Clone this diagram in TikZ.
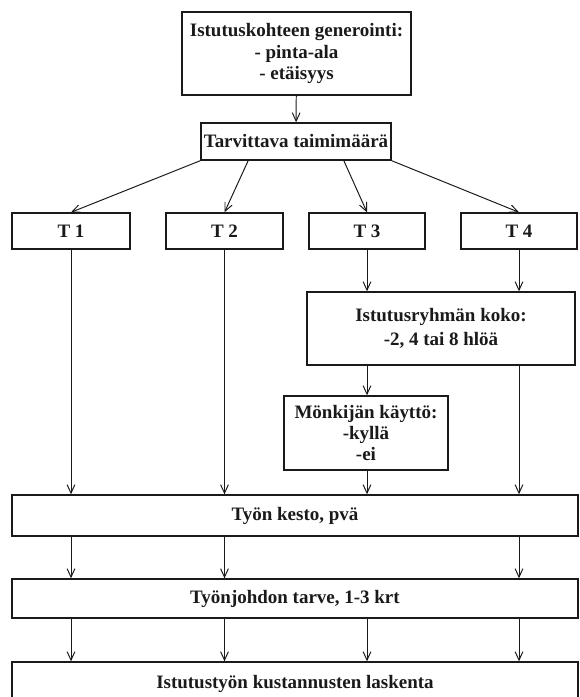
\documentclass[tikz,border=0pt]{standalone}
\usepackage{fontspec}
\setmainfont{Liberation Serif}
\usepackage{tikz}
\usetikzlibrary{arrows.meta,positioning,calc}
\definecolor{flInk}{HTML}{1A1A1A}
\newlength{\pxu}
\setlength{\pxu}{0.025cm}
\tikzset{
  % Plain process box
  pbox/.style={rectangle,draw=flInk,line width=1pt,fill=white,
    align=center,inner sep=0pt,text=flInk,
    font=\fontsize{13.5}{15}\selectfont\bfseries},
  % Wide full-width box
  wbox/.style={pbox,minimum width=566\pxu},
  % Arrows
  arr/.style={-{Straight Barb[length=6pt,width=5.5pt]},line width=0.7pt,color=flInk},
}
\begin{document}
\begin{tikzpicture}[x=\pxu,y=-\pxu]
  \useasboundingbox (0,0) rectangle (579,697);

  \node[pbox,minimum width=229\pxu,minimum height=83\pxu] (gen) at (296.5,53.5)
    {Istutuskohteen generointi:\\- pinta-ala\\- etäisyys};
  \node[pbox,minimum width=190\pxu,minimum height=37\pxu] (tarve) at (296,141.5)
    {Tarvittava taimimäärä};

  \node[pbox,minimum width=118\pxu,minimum height=36\pxu] (t1) at (71,231) {T 1};
  \node[pbox,minimum width=117\pxu,minimum height=36\pxu] (t2) at (224.5,231) {T 2};
  \node[pbox,minimum width=116\pxu,minimum height=36\pxu] (t3) at (367,231) {T 3};
  \node[pbox,minimum width=116\pxu,minimum height=36\pxu] (t4) at (519,231) {T 4};

  \node[pbox,minimum width=268\pxu,minimum height=73\pxu] (ryhma) at (441,328.5)
    {Istutusryhmän koko:\\[2pt]-2, 4 tai 8 hlöä};
  \node[pbox,minimum width=164\pxu,minimum height=74\pxu] (monk) at (366,433)
    {Mönkijän käyttö:\\-kyllä\\-ei};

  \node[wbox,minimum height=41\pxu] (kesto) at (295,515.5) {Työn kesto, pvä};
  \node[wbox,minimum height=39\pxu] (johto) at (295,598.5) {Työnjohdon tarve, 1-3 krt};
  \node[wbox,minimum height=44\pxu] (lask) at (295,684) {Istutustyön kustannusten laskenta};

  \draw[arr] (gen) -- (tarve);
  \draw[arr] (tarve.south west) -- (t1.north);
  \draw[arr] ($(tarve.south west)!0.25!(tarve.south east)$) -- (t2.north);
  \draw[arr] ($(tarve.south west)!0.75!(tarve.south east)$) -- (t3.north);
  \draw[arr] (tarve.south east) -- (t4.north);

  \draw[arr] (t1) -- (t1 |- kesto.north);
  \draw[arr] (t2) -- (t2 |- kesto.north);
  \draw[arr] (t3) -- (t3 |- ryhma.north);
  \draw[arr] (t4) -- (t4 |- ryhma.north);
  \draw[arr] (t3 |- ryhma.south) -- (t3 |- monk.north);
  \draw[arr] (t3 |- monk.south) -- (t3 |- kesto.north);
  \draw[arr] (t4 |- ryhma.south) -- (t4 |- kesto.north);

  \foreach \t in {t1,t2,t4}
    \draw[arr] (\t |- kesto.south) -- (\t |- johto.north);
  \foreach \t in {t1,t2,t3,t4}
    \draw[arr] (\t |- johto.south) -- (\t |- lask.north);
\end{tikzpicture}
\end{document}
